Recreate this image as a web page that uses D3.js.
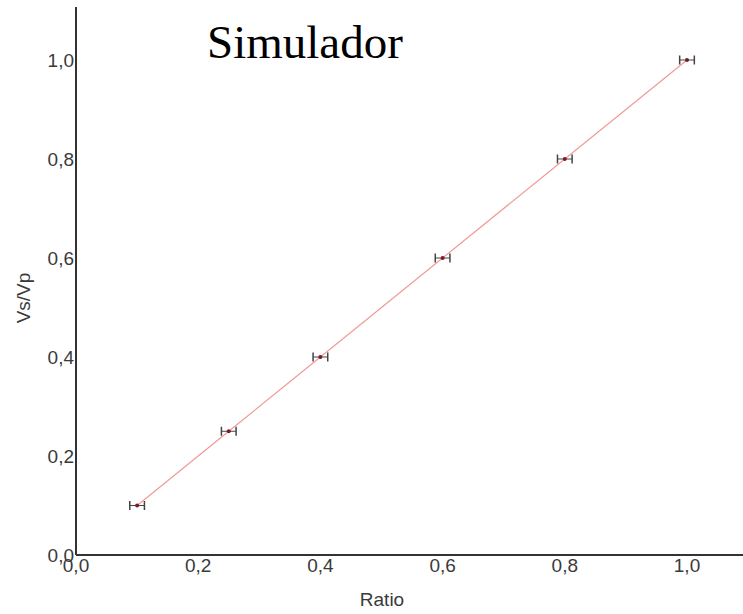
<!DOCTYPE html>
<html>
<head>
<meta charset="utf-8">
<script src="https://cdn.jsdelivr.net/npm/d3@7"></script>
<style>
  body { margin: 0; background: #fff; }
  text { font-family: "Liberation Sans", Arial, sans-serif; fill: #3a3a3a; }
</style>
</head>
<body>
<svg width="743" height="614"></svg>
<script>
// data
let ratio = [0.1, 0.25, 0.4, 0.6, 0.8, 1.0];
let vsvp = [0.1, 0.25, 0.4, 0.6, 0.8, 1.0];
let errX = [0.012, 0.012, 0.012, 0.012, 0.012, 0.012];
let ticks = [0, 0.2, 0.4, 0.6, 0.8, 1.0];

let svg = d3.select("svg");

let x = d3.scaleLinear().domain([0, 1]).range([76, 687]);
let y = d3.scaleLinear().domain([0, 1]).range([555, 60]);
let fmt = (d) => d3.format(".1f")(d).replace(".", ",");

// axes lines
svg.append("line")
  .attr("x1", 76).attr("x2", 743)
  .attr("y1", 555).attr("y2", 555)
  .attr("stroke", "#333").attr("stroke-width", 2);
svg.append("line")
  .attr("x1", 76).attr("x2", 76)
  .attr("y1", 7).attr("y2", 555)
  .attr("stroke", "#333").attr("stroke-width", 2);

// tick labels
svg.selectAll(".xt")
  .data(ticks)
  .enter()
  .append("text")
  .attr("class", "xt")
  .attr("x", (d) => x(d))
  .attr("y", 572)
  .attr("text-anchor", "middle")
  .style("font-size", "19px")
  .text(fmt);

svg.selectAll(".yt")
  .data(ticks)
  .enter()
  .append("text")
  .attr("class", "yt")
  .attr("x", 74)
  .attr("y", (d) => y(d) + 7)
  .attr("text-anchor", "end")
  .style("font-size", "19px")
  .text(fmt);

// axis titles
svg.append("text")
  .attr("x", 382).attr("y", 606)
  .attr("text-anchor", "middle")
  .style("font-size", "19px")
  .text("Ratio");
svg.append("text")
  .attr("transform", "translate(30,298) rotate(-90)")
  .attr("text-anchor", "middle")
  .style("font-size", "19px")
  .text("Vs/Vp");

// red line through points
let line = d3.line()
  .x((d, i) => x(ratio[i]))
  .y((d, i) => y(vsvp[i]));
svg.append("path")
  .datum(ratio)
  .attr("d", line)
  .attr("fill", "none")
  .attr("stroke", "#f19a9a")
  .attr("stroke-width", 1.2);

// error bars
let eb = svg.selectAll(".eb")
  .data(ratio)
  .enter()
  .append("g")
  .attr("class", "eb");
eb.append("line")
  .attr("x1", (d, i) => x(d - errX[i]))
  .attr("x2", (d, i) => x(d + errX[i]))
  .attr("y1", (d, i) => y(vsvp[i]))
  .attr("y2", (d, i) => y(vsvp[i]))
  .attr("stroke", "#444").attr("stroke-width", 1);
eb.append("line")
  .attr("x1", (d, i) => x(d - errX[i]))
  .attr("x2", (d, i) => x(d - errX[i]))
  .attr("y1", (d, i) => y(vsvp[i]) - 4.5)
  .attr("y2", (d, i) => y(vsvp[i]) + 4.5)
  .attr("stroke", "#444").attr("stroke-width", 1.5);
eb.append("line")
  .attr("x1", (d, i) => x(d + errX[i]))
  .attr("x2", (d, i) => x(d + errX[i]))
  .attr("y1", (d, i) => y(vsvp[i]) - 4.5)
  .attr("y2", (d, i) => y(vsvp[i]) + 4.5)
  .attr("stroke", "#444").attr("stroke-width", 1.5);
eb.append("circle")
  .attr("cx", (d) => x(d))
  .attr("cy", (d, i) => y(vsvp[i]))
  .attr("r", 2)
  .attr("fill", "#7a1a2a");

// title
svg.append("text")
  .attr("x", 207).attr("y", 58)
  .style("font-family", "'Liberation Serif', 'Times New Roman', serif")
  .style("font-size", "47px")
  .style("fill", "#000")
  .text("Simulador");
</script>
</body>
</html>
